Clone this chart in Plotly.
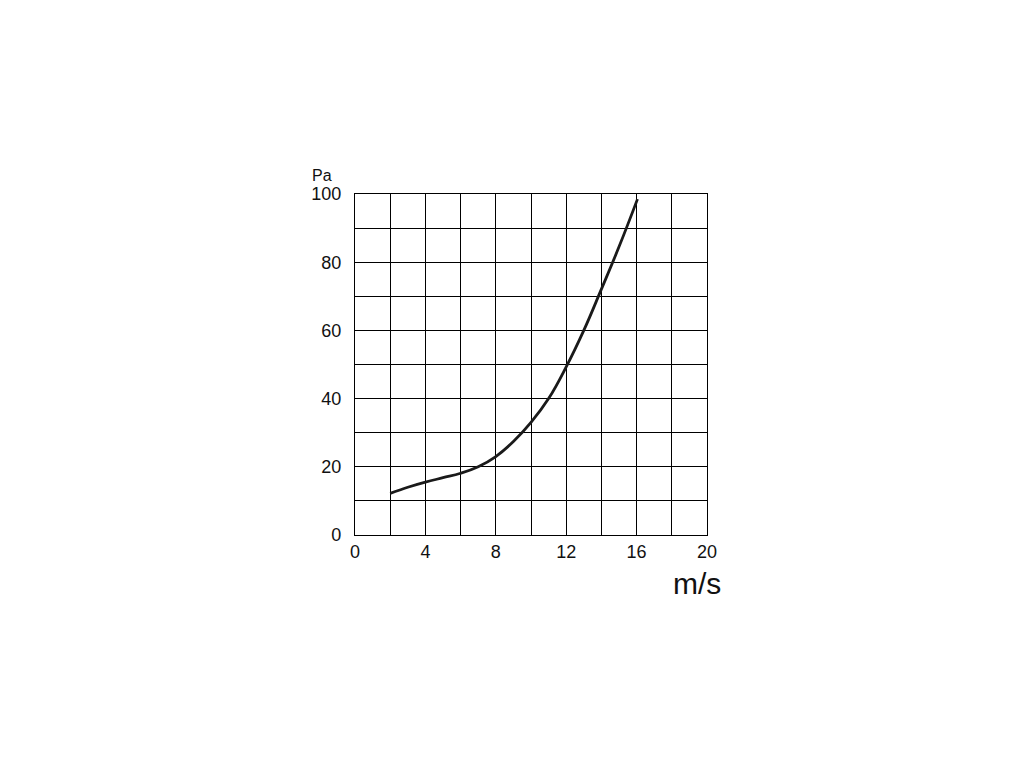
import plotly.graph_objects as go

# Data
speed_ms = [2, 3, 4, 5, 6, 7, 8, 9, 10, 11, 12, 13, 14, 15, 16.05]
pressure_pa = [12.2, 14.0, 15.5, 16.8, 18.1, 20.0, 23.0, 27.4, 33.0, 40.0, 49.3, 60.0, 72.1, 84.5, 98.5]

x_grid = list(range(0, 21, 2))
x_labels = [str(v) if v % 4 == 0 else "" for v in x_grid]
y_grid = list(range(0, 101, 10))
y_labels = [str(v) if v % 20 == 0 else "" for v in y_grid]

FONT = "Liberation Sans, Arial, Helvetica, sans-serif"

fig = go.Figure()
fig.add_trace(go.Scatter(
    x=speed_ms, y=pressure_pa, mode="lines",
    line=dict(color="#1a1a1a", width=2.8, shape="spline", smoothing=1.2),
    hoverinfo="skip", showlegend=False,
))

fig.update_xaxes(
    range=[0, 20], tickmode="array", tickvals=x_grid, ticktext=x_labels,
    showgrid=True, gridcolor="black", gridwidth=1,
    showline=True, linecolor="black", linewidth=1.2, mirror=True,
    zeroline=False, ticks="",
    tickfont=dict(family=FONT, size=18, color="#111"),
)
fig.update_yaxes(
    range=[0, 100], tickmode="array", tickvals=y_grid, ticktext=y_labels,
    showgrid=True, gridcolor="black", gridwidth=1,
    showline=True, linecolor="black", linewidth=1.2, mirror=True,
    zeroline=False, ticks="outside", ticklen=9, tickcolor="rgba(0,0,0,0)",
    tickfont=dict(family=FONT, size=18, color="#111"),
)

# figure pixel layout (page has an 8px body offset)
OFF = 8
W, H = 1024, 768
L = 355 - OFF
R = W - (707 - OFF)
T = 194 - OFF
B = H - (535 - OFF)
pw, ph = W - L - R, H - T - B


def to_paper(px, py):
    fx = px - OFF
    fy = py - OFF
    return (fx - L) / pw, (H - fy - B) / ph


ax, ay = to_paper(321.5, 175)
fig.add_annotation(text="Pa", x=ax, y=ay, xref="paper", yref="paper",
                   xanchor="center", yanchor="middle", showarrow=False,
                   font=dict(family=FONT, size=16, color="#111"))
mx, my = to_paper(697, 583)
fig.add_annotation(text="m/s", x=mx, y=my, xref="paper", yref="paper",
                   xanchor="center", yanchor="middle", showarrow=False,
                   font=dict(family=FONT, size=30, color="#111"))

fig.update_layout(
    width=W, height=H,
    margin=dict(l=L, r=R, t=T, b=B, pad=0),
    paper_bgcolor="white", plot_bgcolor="white",
    font=dict(family=FONT),
)

fig.write_html("out.html")
